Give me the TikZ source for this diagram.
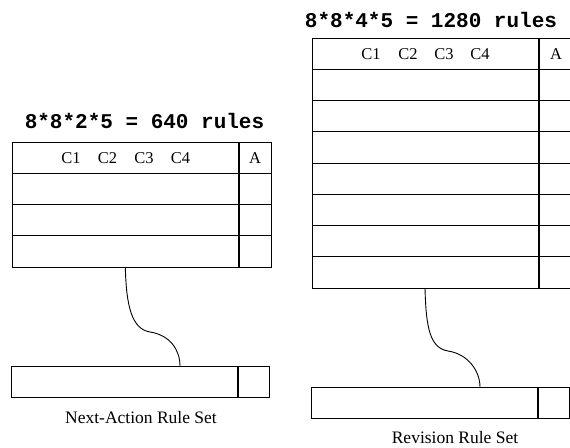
\documentclass[tikz,border=0pt]{standalone}
\usepackage{fontspec}
\setmainfont{Liberation Serif}
\newfontfamily\titlefont{Liberation Mono}
\usetikzlibrary{calc}
\begin{document}
\begin{tikzpicture}[x=1pt,y=-1pt,
  tablebox/.style={draw,line width=1pt,rectangle,inner sep=0pt,outer sep=0pt,anchor=north west},
  rowline/.style={line width=1pt},
  divider/.style={line width=2.4pt},
  wire/.style={line width=0.9pt},
  title/.style={font=\titlefont\bfseries\fontsize{21}{21}\selectfont,inner sep=0pt},
  colhead/.style={font=\fontsize{16.5}{16.5}\selectfont,inner sep=0pt},
  caption/.style={font=\fontsize{17.5}{17.5}\selectfont,inner sep=0pt},
]
\useasboundingbox (0,0) rectangle (570,447);
\clip (0,0) rectangle (570,447);

% ---- Next-Action rule set (left) ----
\node[title] (ntitle) at (144.5,121) {8*8*2*5 = 640 rules};
\node[tablebox,minimum width=259pt,minimum height=125pt] (ntab) at (12,142) {};
\foreach \i in {1,2,3}
  \draw[rowline] (12,142+31.25*\i) -- (271,142+31.25*\i);
\draw[divider] (239,142) -- (239,267);
\foreach \x/\t in {71/C1,107.5/C2,144/C3,180.5/C4}
  \node[colhead] (n\t) at (\x,158.5) {\t};
\node[colhead] (nA) at (255,158.5) {A};

\node[tablebox,minimum width=258pt,minimum height=31pt] (nbar) at (11,366) {};
\draw[divider] (238,366) -- (238,397);
\node[caption] (ncap) at (141,417.5) {Next-Action Rule Set};

\coordinate (nout) at (125.3,267);
\coordinate (nin) at (180,366);
\draw[wire] (nout) .. controls +(1,40) and +(-18,-3) .. ++(24.7,65)
  .. controls +(20,3) and +(0,-16) .. (nin);

% ---- Revision rule set (right) ----
\node[title] (rtitle) at (431,20) {8*8*4*5 = 1280 rules};
\node[tablebox,minimum width=260pt,minimum height=250pt] (rtab) at (312,38) {};
\foreach \i in {1,...,7}
  \draw[rowline] (312,38+31.25*\i) -- (572,38+31.25*\i);
\draw[divider] (539,38) -- (539,288);
\foreach \x/\t in {371/C1,408/C2,444/C3,480/C4}
  \node[colhead] (r\t) at (\x,54.5) {\t};
\node[colhead] (rA) at (556,54.5) {A};

\node[tablebox,minimum width=258pt,minimum height=31pt] (rbar) at (311,387) {};
\draw[divider] (538,387) -- (538,418);
\node[caption] (rcap) at (455,438) {Revision Rule Set};

\coordinate (rout) at (425,288);
\coordinate (rin) at (480,387);
\draw[wire] (rout) .. controls +(1,40) and +(-18,-3) .. ++(23,63)
  .. controls +(20,3) and +(0,-16) .. (rin);
\end{tikzpicture}
\end{document}
